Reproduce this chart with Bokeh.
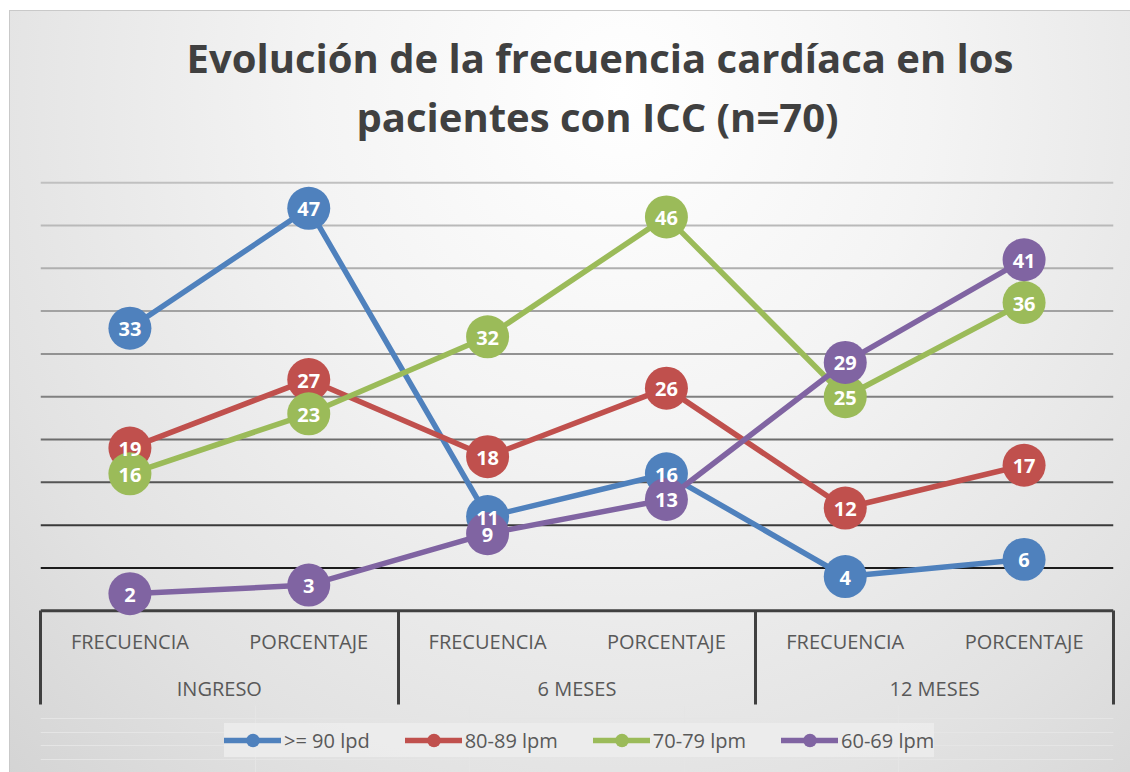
from bokeh.plotting import figure
from bokeh.layouts import column
from bokeh.models import (Range1d, FixedTicker, LinearAxis, Span,
                          Legend, LegendItem, Title)
from bokeh.core.properties import value
from bokeh.embed import file_html
from bokeh.resources import INLINE

# ---------------- data ----------------
groups = ["INGRESO", "6 MESES", "12 MESES"]
subcats = ["FRECUENCIA", "PORCENTAJE"]
series_names = [">= 90 lpd", "80-89 lpm", "70-79 lpm", "60-69 lpm"]
s_90 = [33, 47, 11, 16, 4, 6]
s_80 = [19, 27, 18, 26, 12, 17]
s_70 = [16, 23, 32, 46, 25, 36]
s_60 = [2, 3, 9, 13, 29, 41]
grid_levels = [5, 10, 15, 20, 25, 30, 35, 40, 45, 50]
title_lines = ["Evolución de la frecuencia cardíaca en los",
               "pacientes con ICC (n=70)"]

# ---------------- styles ----------------
colors = ["#4F81BD", "#C0504D", "#9BBB59", "#8064A2"]
grid_colors = ["#1c1c1c", "#3a3a3a", "#555555", "#6c6c6c", "#808080",
               "#929292", "#a2a2a2", "#afafaf", "#b9b9b9", "#c0c0c0"]
FONT = "Open Sans"
LABEL_COLOR = "#595959"
AXIS_COLOR = "#404040"

n_sub = len(subcats)
n_cat = len(groups) * n_sub
xs = [i + 0.5 for i in range(n_cat)]


def key(v):
    return int(v) if float(v).is_integer() else v


sub_labels = {key(x): subcats[i % n_sub] for i, x in enumerate(xs)}
group_centers = [g * n_sub + n_sub / 2 for g in range(len(groups))]
group_labels = {key(c): groups[g] for g, c in enumerate(group_centers)}
boundaries = [g * n_sub for g in range(len(groups) + 1)]

W = 1130
H_MAIN = 705
H_LEG = 67

p = figure(width=W, height=H_MAIN,
           x_range=Range1d(0, n_cat), y_range=Range1d(-0.9, 50.6),
           y_axis_location=None, toolbar_location=None,
           output_backend="svg",
           min_border_top=177, min_border_bottom=87,
           min_border_left=40, min_border_right=17)
p.border_fill_alpha = 0
p.background_fill_alpha = 0
p.outline_line_color = None
p.xgrid.visible = False

# title (two lines)
p.title.text = title_lines[0]
p.title.text_font = FONT
p.title.text_font_size = "40px"
p.title.text_font_style = "bold"
p.title.text_color = "#404040"
p.title.align = "left"
p.title.offset = 146
p.title.standoff = -62
t2 = Title(text=title_lines[1], text_font=FONT, text_font_size="40px",
           text_font_style="bold", text_color="#404040", align="left",
           offset=316, standoff=67)
p.add_layout(t2, "above")

# gridlines
for lvl, gc in zip(grid_levels, grid_colors):
    p.add_layout(Span(location=lvl, dimension="width", line_color=gc,
                      line_width=2, level="underlay"))
# category axis base line
p.add_layout(Span(location=0, dimension="width", line_color=AXIS_COLOR,
                  line_width=3, level="underlay"))

# sub-category axis
ax1 = p.xaxis[0]
ax1.ticker = FixedTicker(ticks=xs)
ax1.major_label_overrides = sub_labels
ax1.axis_line_color = None
ax1.major_tick_line_color = None
ax1.minor_tick_line_color = None
ax1.major_label_standoff = 3
ax1.major_label_text_font = FONT
ax1.major_label_text_font_size = "20px"
ax1.major_label_text_color = LABEL_COLOR

# group axis
ax2 = LinearAxis(ticker=FixedTicker(ticks=group_centers),
                 major_label_overrides=group_labels,
                 axis_line_color=None, major_tick_line_color=None,
                 minor_tick_line_color=None, major_label_standoff=11,
                 major_label_text_font=FONT, major_label_text_font_size="20px",
                 major_label_text_color=LABEL_COLOR)
p.add_layout(ax2, "below")

# group separators: ticks drawn back up to the base line
ax3 = LinearAxis(ticker=FixedTicker(ticks=boundaries),
                 axis_line_color=None, minor_tick_line_color=None,
                 major_tick_line_color=AXIS_COLOR, major_tick_line_width=3,
                 major_tick_in=94, major_tick_out=0,
                 major_label_standoff=0, major_label_text_font_size="1px",
                 major_label_text_alpha=0)
p.add_layout(ax3, "below")

# series
all_series = [s_90, s_80, s_70, s_60]
for ys, c in zip(all_series, colors):
    p.line(xs, ys, line_color=c, line_width=5.5,
           line_join="round", line_cap="round")
    p.scatter(xs, ys, size=43, fill_color=c, line_color=None)

for ys in all_series:
    p.text(xs, ys, text=[str(v) for v in ys], text_color="white",
           text_font=value(FONT), text_font_style="bold",
           text_font_size="20px", text_align="center",
           text_baseline="middle", y_offset=1)

# legend strip
pl = figure(width=W, height=H_LEG, x_range=Range1d(0, 1), y_range=Range1d(0, 1),
            x_axis_location=None, y_axis_location=None,
            toolbar_location=None, output_backend="svg",
            min_border=0)
pl.border_fill_alpha = 0
pl.background_fill_alpha = 0
pl.outline_line_color = None
pl.title.visible = False
nan = float("nan")
items = []
for name, c in zip(series_names, colors):
    lr = pl.line([nan], [nan], line_color=c, line_width=5.5, line_cap="round")
    sr = pl.scatter([nan], [nan], size=14, fill_color=c, line_color=None)
    items.append(LegendItem(label=name, renderers=[lr, sr]))
legend = Legend(items=items, orientation="horizontal", location=(184, 15),
                margin=0, padding=6, spacing=35, glyph_width=57,
                glyph_height=34, label_standoff=3,
                label_text_font=FONT, label_text_font_size="20px",
                label_text_color=LABEL_COLOR,
                background_fill_color="#eeeeee", background_fill_alpha=0.8,
                border_line_color=None)
pl.add_layout(legend, "center")

layout = column(p, pl, spacing=0, styles={
    "background": "radial-gradient(ellipse farthest-corner at 55% 12%, "
                  "#ffffff 0%, #f4f4f4 35%, #e2e2e2 75%, #d4d4d4 100%)",
    "box-shadow": "inset 9px 10px 0 0 #ffffff, inset 10px 11px 0 0 #c9c9c9",
})

open("out.html", "w").write(file_html(layout, INLINE))
